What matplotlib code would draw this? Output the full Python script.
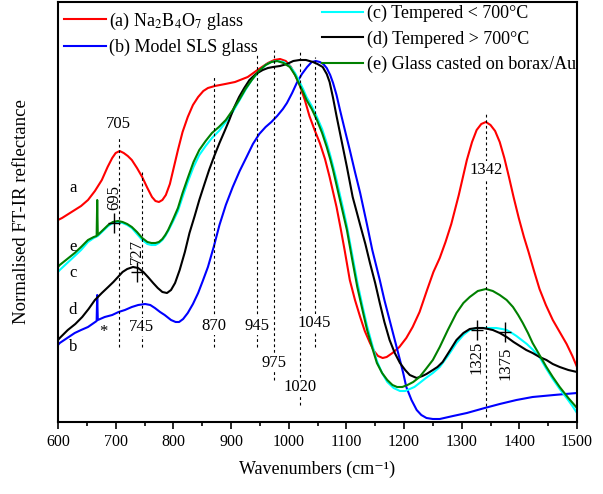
import numpy as np
import matplotlib
matplotlib.use("Agg")
import matplotlib.pyplot as plt
from matplotlib.ticker import MultipleLocator

plt.rcParams['font.family'] = ['Liberation Serif', 'DejaVu Serif']
plt.rcParams['mathtext.fontset'] = 'stix'

# (a) Na2B4O7 glass
wn_a = [600, 607, 618, 629, 640, 652, 664, 676, 686, 694, 700, 707, 714, 721, 728,
        737, 746, 755, 763, 769, 775, 781, 787, 794, 801, 808, 816, 825, 834, 843,
        852, 860, 872, 890, 907, 929, 946, 964, 975, 985, 995, 1004, 1012, 1019,
        1028, 1036, 1045, 1054, 1063, 1071, 1077, 1083, 1090, 1097, 1106, 1115, 1124,
        1132, 1141, 1148, 1155, 1163, 1170, 1180, 1192, 1204, 1215, 1227, 1240, 1251,
        1262, 1272, 1282, 1295, 1309, 1318, 1326, 1334, 1342, 1350, 1358, 1366, 1374,
        1382, 1390, 1399, 1408, 1416, 1425, 1435, 1446, 1458, 1470, 1482, 1492, 1500]
r_a = [2.02, 2.04, 2.08, 2.12, 2.16, 2.22, 2.31, 2.42, 2.55, 2.64, 2.69, 2.71, 2.69,
       2.66, 2.62, 2.54, 2.45, 2.34, 2.25, 2.21, 2.20, 2.22, 2.27, 2.38, 2.55, 2.72,
       2.90, 3.05, 3.17, 3.25, 3.31, 3.34, 3.36, 3.38, 3.40, 3.45, 3.52, 3.59, 3.62,
       3.63, 3.61, 3.55, 3.46, 3.37, 3.22, 3.06, 2.92, 2.79, 2.63, 2.45, 2.30, 2.15,
       1.94, 1.72, 1.42, 1.22, 1.05, 0.91, 0.79, 0.71, 0.66, 0.64, 0.65, 0.69, 0.75,
       0.84, 0.95, 1.10, 1.32, 1.50, 1.64, 1.80, 1.98, 2.27, 2.62, 2.80, 2.92, 2.98,
       3.00, 2.97, 2.91, 2.80, 2.64, 2.45, 2.25, 2.04, 1.85, 1.70, 1.52, 1.33, 1.17,
       1.02, 0.90, 0.78, 0.66, 0.55]

# (b) Model SLS glass
wn_b = [600, 603, 616, 629, 640, 652, 662, 667, 668, 669, 681, 694, 705, 716, 728,
        739, 751, 760, 768, 777, 785, 796, 804, 810, 817, 825, 834, 843, 851, 860,
        870, 880, 891, 903, 915, 927, 938, 949, 960, 970, 980, 990, 997, 1006, 1014,
        1023, 1032, 1040, 1047, 1054, 1060, 1066, 1072, 1077, 1083, 1089, 1097, 1106,
        1115, 1124, 1130, 1136, 1145, 1158, 1166, 1175, 1184, 1193, 1199, 1204, 1213,
        1222, 1230, 1239, 1250, 1262, 1285, 1309, 1340, 1366, 1395, 1423, 1460, 1500]
r_b = [0.77, 0.79, 0.84, 0.89, 0.92, 0.95, 0.99, 1.01, 1.27, 1.02, 1.05, 1.07, 1.10,
       1.12, 1.15, 1.17, 1.18, 1.17, 1.14, 1.10, 1.07, 1.02, 1.00, 1.00, 1.03, 1.09,
       1.18, 1.29, 1.41, 1.55, 1.75, 1.97, 2.17, 2.35, 2.51, 2.65, 2.78, 2.88, 2.95,
       3.00, 3.06, 3.13, 3.19, 3.29, 3.39, 3.48, 3.55, 3.60, 3.61, 3.60, 3.58, 3.54,
       3.47, 3.39, 3.27, 3.12, 2.93, 2.72, 2.50, 2.29, 2.13, 1.97, 1.72, 1.42, 1.22,
       1.02, 0.82, 0.62, 0.48, 0.35, 0.22, 0.12, 0.07, 0.04, 0.03, 0.03, 0.06, 0.09,
       0.14, 0.18, 0.22, 0.25, 0.27, 0.29]

# (c) Tempered < 700 C
wn_c = [600, 603, 616, 629, 640, 652, 662, 669, 678, 687, 695, 704, 712, 720, 728,
        737, 746, 755, 762, 769, 775, 781, 786, 791, 799, 808, 816, 825, 835, 845,
        856, 867, 879, 891, 903, 914, 925, 936, 948, 960, 970, 980, 991, 1002, 1011,
        1019, 1025, 1031, 1040, 1049, 1058, 1066, 1072, 1077, 1083, 1089, 1095, 1101,
        1110, 1119, 1128, 1136, 1145, 1153, 1162, 1171, 1182, 1193, 1202, 1210, 1218,
        1227, 1238, 1250, 1262, 1276, 1291, 1303, 1314, 1326, 1337, 1350, 1360, 1370,
        1378, 1387, 1395, 1404, 1413, 1424, 1435, 1446, 1458, 1470, 1482, 1492, 1500]
r_c = [1.50, 1.52, 1.59, 1.66, 1.72, 1.80, 1.84, 1.86, 1.91, 1.96, 1.99, 2.00, 1.99,
       1.97, 1.94, 1.88, 1.82, 1.78, 1.77, 1.77, 1.79, 1.82, 1.86, 1.91, 2.00, 2.11,
       2.25, 2.40, 2.55, 2.67, 2.76, 2.84, 2.91, 3.00, 3.10, 3.21, 3.32, 3.42, 3.50,
       3.57, 3.60, 3.61, 3.60, 3.56, 3.49, 3.40, 3.33, 3.25, 3.16, 3.05, 2.93, 2.79,
       2.67, 2.56, 2.42, 2.27, 2.12, 1.96, 1.68, 1.40, 1.16, 0.96, 0.77, 0.61, 0.49,
       0.40, 0.34, 0.31, 0.31, 0.33, 0.35, 0.39, 0.44, 0.49, 0.55, 0.66, 0.79, 0.87,
       0.92, 0.94, 0.94, 0.94, 0.94, 0.93, 0.92, 0.89, 0.86, 0.82, 0.78, 0.72, 0.65,
       0.54, 0.43, 0.33, 0.24, 0.16, 0.09]

# (d) Tempered > 700 C
wn_d = [600, 603, 610, 617, 630, 642, 653, 664, 676, 687, 696, 704, 712, 720, 730,
        739, 748, 756, 765, 773, 781, 789, 796, 803, 811, 820, 828, 837, 845, 854,
        862, 871, 880, 889, 897, 905, 914, 923, 932, 943, 955, 964, 973, 985, 997,
        1008, 1019, 1030, 1042, 1050, 1059, 1066, 1071, 1077, 1083, 1089, 1095, 1101,
        1106, 1111, 1118, 1124, 1133, 1141, 1150, 1158, 1166, 1175, 1184, 1193, 1202,
        1210, 1222, 1232, 1239, 1250, 1258, 1267, 1278, 1291, 1303, 1314, 1326, 1337,
        1346, 1354, 1366, 1378, 1390, 1401, 1412, 1423, 1435, 1447, 1458, 1470, 1485,
        1500]
r_d = [0.82, 0.84, 0.88, 0.92, 0.98, 1.05, 1.13, 1.22, 1.29, 1.35, 1.40, 1.45, 1.50,
       1.53, 1.55, 1.54, 1.50, 1.45, 1.39, 1.34, 1.30, 1.29, 1.32, 1.39, 1.52, 1.70,
       1.89, 2.06, 2.22, 2.38, 2.52, 2.66, 2.79, 2.91, 3.02, 3.14, 3.25, 3.34, 3.42,
       3.48, 3.52, 3.54, 3.55, 3.56, 3.58, 3.61, 3.62, 3.62, 3.60, 3.58, 3.55, 3.48,
       3.40, 3.24, 3.06, 2.89, 2.72, 2.55, 2.40, 2.25, 2.10, 1.97, 1.78, 1.59, 1.39,
       1.19, 1.00, 0.82, 0.69, 0.59, 0.52, 0.47, 0.44, 0.46, 0.48, 0.52, 0.55, 0.60,
       0.70, 0.82, 0.89, 0.93, 0.94, 0.94, 0.93, 0.92, 0.89, 0.85, 0.80, 0.76, 0.72,
       0.69, 0.65, 0.62, 0.58, 0.55, 0.52, 0.50]

# (e) Glass casted on borax/Au
wn_e = [600, 603, 616, 629, 640, 652, 662, 667, 668, 669, 678, 687, 695, 704, 712,
        720, 728, 737, 746, 755, 762, 769, 775, 781, 786, 791, 799, 808, 816, 825,
        835, 845, 856, 867, 879, 891, 903, 914, 925, 936, 948, 960, 970, 980, 991,
        1002, 1011, 1019, 1025, 1031, 1040, 1049, 1058, 1066, 1072, 1077, 1083, 1089,
        1095, 1101, 1110, 1119, 1128, 1136, 1145, 1153, 1162, 1171, 1180, 1188, 1197,
        1206, 1216, 1227, 1238, 1250, 1262, 1276, 1291, 1303, 1314, 1328, 1342, 1354,
        1366, 1378, 1389, 1398, 1406, 1415, 1423, 1435, 1447, 1458, 1470, 1485, 1500]
r_e = [1.55, 1.57, 1.63, 1.69, 1.75, 1.82, 1.85, 1.86, 2.22, 1.87, 1.92, 1.97, 2.00,
       2.01, 2.00, 1.98, 1.95, 1.90, 1.84, 1.80, 1.79, 1.79, 1.80, 1.83, 1.87, 1.92,
       2.02, 2.14, 2.29, 2.44, 2.60, 2.72, 2.81, 2.89, 2.95, 3.02, 3.12, 3.22, 3.33,
       3.42, 3.51, 3.57, 3.60, 3.61, 3.59, 3.55, 3.47, 3.37, 3.30, 3.22, 3.13, 3.02,
       2.89, 2.75, 2.63, 2.52, 2.37, 2.22, 2.07, 1.92, 1.63, 1.35, 1.12, 0.92, 0.74,
       0.59, 0.49, 0.42, 0.37, 0.35, 0.35, 0.37, 0.40, 0.45, 0.53, 0.62, 0.75, 0.92,
       1.09, 1.19, 1.25, 1.31, 1.33, 1.31, 1.27, 1.22, 1.15, 1.07, 0.99, 0.89, 0.79,
       0.67, 0.55, 0.45, 0.35, 0.24, 0.14]

series = [
    (wn_a, r_a, '#ff0000', '(a) Na$_2$B$_4$O$_7$ glass'),
    (wn_b, r_b, '#0000ff', '(b) Model SLS glass'),
    (wn_c, r_c, '#00ffff', '(c) Tempered < 700°C'),
    (wn_d, r_d, '#000000', '(d) Tempered > 700°C'),
    (wn_e, r_e, '#008000', '(e) Glass casted on borax/Au'),
]

# dashed guide lines: (position, low, high, label, label height)
guides = [
    (705, 0.75, 2.85, '705', 2.98),
    (745, 0.75, 2.50, '745', 0.95),
    (870, 0.75, 3.45, '870', 0.96),
    (945, 0.75, 3.67, '945', 0.96),
    (975, 0.42, 3.72, '975', 0.59),
    (1020, 0.17, 3.72, '1020', 0.35),
    (1045, 0.75, 3.65, '1045', 0.99),
    (1342, 0.05, 3.09, '1342', 2.52),
]
# rotated labels with a small cross marker: (x, label y, marker y, text)
shoulders = [
    (697, 2.24, 1.99, '695'),
    (737, 1.70, 1.50, '727'),
    (1326, 0.65, 0.92, '1325'),
    (1376, 0.59, 0.90, '1375'),
]
letters = [('a', 2.34), ('e', 1.75), ('c', 1.49), ('d', 1.12), ('b', 0.75)]

fig = plt.figure(figsize=(6.03, 4.94), dpi=100)
ax = fig.add_axes([58 / 603, 72 / 494, 519 / 603, 420 / 494])

lines = []
for wn, r, col, lab in series:
    ln, = ax.plot(wn, r, color=col, lw=1.5, label=lab, solid_joinstyle='round')
    lines.append(ln)

for x, lo, hi, lab, ly in guides:
    ax.vlines(x, lo, hi, colors='black', linestyles=(0, (2.5, 2.5)), lw=0.8)
    ax.text(x, ly, lab, ha='center', va='center', fontsize=12,
            bbox=dict(facecolor='white', edgecolor='none', pad=0.5))

for x, ly, my, lab in shoulders:
    ax.plot(x, my, marker='|', ms=14, mew=1, color='black')
    ax.plot(x, my, marker='_', ms=9, mew=1, color='black')
    ax.text(x, ly, lab, rotation=90, ha='center', va='center', fontsize=12)

for lab, y in letters:
    ax.text(626, y, lab, ha='center', va='center', fontsize=12)
ax.text(678, 0.90, '*', ha='center', va='center', fontsize=12)

leg1 = ax.legend(handles=lines[:2], loc='upper left', bbox_to_anchor=(0.012, 0.980),
                 frameon=False, fontsize=13, handlelength=2.3, handletextpad=0.2,
                 labelspacing=0.42, borderpad=0, borderaxespad=0)
ax.add_artist(leg1)
ax.legend(handles=lines[2:], loc='upper left', bbox_to_anchor=(0.508, 0.993),
          frameon=False, fontsize=13, handlelength=2.3, handletextpad=0.2,
          labelspacing=0.45, borderpad=0, borderaxespad=0)

ax.set_xlim(600, 1500)
ax.set_ylim(0, 4.2)
ax.xaxis.set_major_locator(MultipleLocator(100))
ax.xaxis.set_minor_locator(MultipleLocator(50))
ax.tick_params(axis='x', which='major', direction='out', length=5, width=1.2,
               labelsize=11.5, top=False)
ax.tick_params(axis='x', which='minor', direction='out', length=3, width=1.2, top=False)
ax.set_yticks([])
for sp in ax.spines.values():
    sp.set_linewidth(1.5)

ax.set_xlabel('Wavenumbers (cm⁻¹)', fontsize=13, labelpad=8)
ax.set_ylabel('Normalised FT-IR reflectance', fontsize=13.5, labelpad=20)

fig.savefig('out.png', dpi=100)
